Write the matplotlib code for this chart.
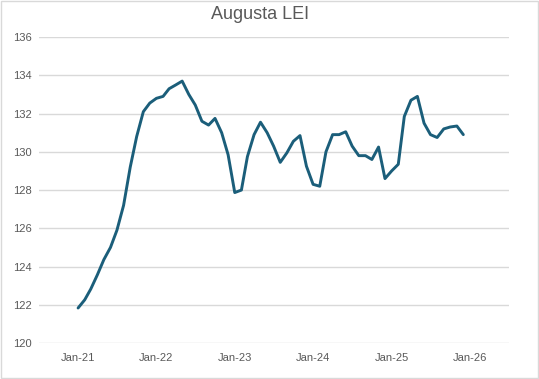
import matplotlib
matplotlib.use("Agg")
import matplotlib.pyplot as plt
import matplotlib.dates as mdates
import pandas as pd

plt.rcParams['font.family'] = ['Liberation Sans', 'DejaVu Sans']

# monthly index, Jan-21 .. Dec-25
months = pd.date_range("2021-01-01", "2025-12-01", freq="MS")
lei = [121.83, 122.26, 122.82, 123.57, 124.36, 125.0, 125.9, 127.2, 129.2, 130.8, 132.1, 132.55,
       132.8, 132.9, 133.3, 133.5, 133.7, 133.0, 132.45, 131.6, 131.4, 131.75, 131.0, 129.85,
       127.87, 128.0, 129.75, 130.9, 131.55, 131.0, 130.3, 129.45, 129.95, 130.55, 130.85, 129.25,
       128.3, 128.2, 130.0, 130.9, 130.9, 131.05, 130.3, 129.8, 129.8, 129.6, 130.25, 128.6,
       129.0, 129.35, 131.85, 132.7, 132.9, 131.5, 130.9, 130.75, 131.2, 131.3, 131.35, 130.9]
yticks = [120, 122, 124, 126, 128, 130, 132, 134, 136]
xticks = pd.date_range("2021-01-01", "2026-01-01", freq="YS")

fig = plt.figure(figsize=(5.39, 3.79), dpi=100)
ax = fig.add_axes([0.072, 0.095, 0.872, 0.807])

ax.plot(months, lei, color="#1b5e7a", lw=2.1, solid_joinstyle="round", solid_capstyle="round")

ax.set_ylim(120, 136)
ax.set_yticks(yticks)
ax.set_xlim(pd.Timestamp("2020-07-02"), pd.Timestamp("2026-07-01"))
ax.set_xticks(xticks)
ax.xaxis.set_major_formatter(mdates.DateFormatter("%b-%y"))

ax.grid(axis="y", color="#d9d9d9", lw=1)
ax.set_axisbelow(True)
for s in ax.spines.values():
    s.set_visible(False)
ax.tick_params(length=0, labelsize=8, labelcolor="#595959")
ax.tick_params(axis="x", pad=7)
ax.tick_params(axis="y", pad=5)

fig.suptitle("Augusta LEI", x=0.483, y=0.985, fontsize=13, color="#595959")
fig.patches.append(plt.Rectangle((0.002, 0.003), 0.996, 0.994, transform=fig.transFigure,
                                 fill=False, edgecolor="#d9d9d9", lw=1))

fig.savefig("out.png", dpi=100)
